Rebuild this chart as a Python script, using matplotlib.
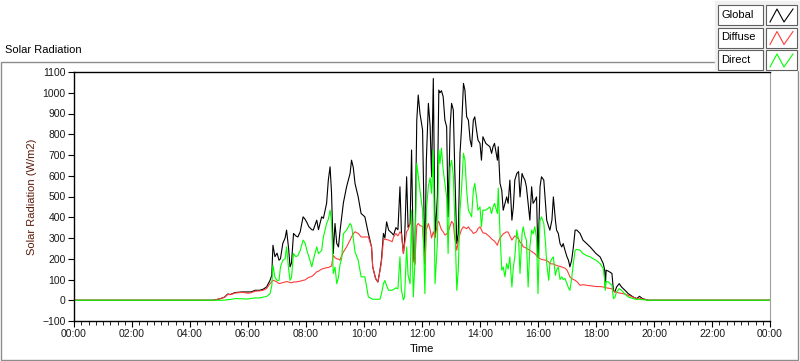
import matplotlib
matplotlib.use("Agg")
import matplotlib.pyplot as plt
from matplotlib.patches import Rectangle
from matplotlib.lines import Line2D
from matplotlib.ticker import FixedLocator, FuncFormatter

# time of day in hours, with readings (W/m2) for the three series
hours = [
    0.0, 4.8, 4.9, 5.0, 5.1, 5.2, 5.3, 5.4, 5.55, 5.8, 6.0, 6.1, 6.25, 6.4, 6.52, 6.64, 6.76, 6.82, 6.86, 6.93,
    7.0, 7.07, 7.12, 7.2, 7.28, 7.33, 7.4, 7.45, 7.5, 7.57, 7.65, 7.72, 7.8, 7.9, 7.97, 8.03, 8.1, 8.2, 8.25, 8.37,
    8.43, 8.54, 8.6, 8.71, 8.77, 8.83, 8.88, 8.94, 9.0, 9.06, 9.12, 9.17, 9.23, 9.29, 9.4, 9.52, 9.57, 9.63, 9.69, 9.8,
    9.9, 10.03, 10.15, 10.26, 10.3, 10.4, 10.48, 10.55, 10.6, 10.67, 10.72, 10.78, 10.85, 10.97, 11.02, 11.1, 11.17, 11.24, 11.29, 11.36,
    11.4, 11.47, 11.52, 11.59, 11.64, 11.7, 11.75, 11.82, 11.87, 11.93, 12.02, 12.1, 12.15, 12.22, 12.28, 12.33, 12.39, 12.45, 12.53, 12.58,
    12.62, 12.67, 12.73, 12.79, 12.85, 12.9, 12.97, 13.02, 13.08, 13.13, 13.2, 13.25, 13.31, 13.36, 13.43, 13.48, 13.54, 13.6, 13.66, 13.71,
    13.77, 13.82, 13.88, 13.93, 14.0, 14.05, 14.1, 14.2, 14.34, 14.4, 14.45, 14.5, 14.6, 14.63, 14.69, 14.75, 14.8, 14.86, 14.92, 14.97,
    15.03, 15.1, 15.15, 15.2, 15.27, 15.33, 15.38, 15.45, 15.49, 15.55, 15.6, 15.66, 15.72, 15.78, 15.83, 15.89, 15.95, 16.0, 16.07, 16.12,
    16.2, 16.26, 16.3, 16.37, 16.41, 16.48, 16.53, 16.6, 16.64, 16.7, 16.76, 16.82, 16.87, 16.93, 17.0, 17.05, 17.1, 17.16, 17.22, 17.28,
    17.34, 17.45, 17.55, 17.68, 17.8, 17.9, 18.0, 18.14, 18.25, 18.3, 18.32, 18.35, 18.43, 18.55, 18.6, 18.65, 18.71, 18.8, 18.88, 19.0,
    19.11, 19.28, 19.4, 19.5, 19.6, 19.75, 19.8, 24.0,
]
global_wm2 = [
    0, 0, 3, 6, 10, 16, 30, 28, 37, 40, 40, 40, 48, 48, 53, 64, 96, 120, 265, 210,
    227, 193, 200, 274, 300, 338, 250, 161, 180, 322, 310, 305, 330, 402, 390, 375, 354, 340, 338, 386,
    340, 402, 395, 467, 579, 643, 520, 225, 370, 274, 257, 330, 402, 470, 547, 611, 675, 640, 563, 498,
    418, 402, 322, 257, 161, 105, 88, 145, 193, 322, 300, 378, 338, 322, 314, 350, 340, 547, 330, 225,
    290, 595, 350, 370, 724, 209, 177, 868, 989, 900, 820, 177, 675, 949, 840, 595, 1069, 305, 498, 1013,
    1000, 1010, 981, 868, 836, 402, 836, 949, 917, 627, 273, 320, 708, 820, 1045, 1013, 884, 868, 772, 740,
    868, 884, 820, 772, 756, 675, 788, 756, 740, 708, 740, 756, 675, 740, 563, 530, 434, 467, 498, 467,
    579, 386, 450, 579, 611, 620, 498, 611, 595, 579, 547, 467, 386, 547, 467, 480, 498, 205, 547, 595,
    579, 467, 386, 354, 338, 386, 498, 386, 338, 322, 273, 257, 273, 241, 209, 193, 161, 193, 257, 338,
    338, 322, 290, 273, 257, 241, 225, 209, 177, 145, 60, 145, 140, 129, 48, 40, 64, 80, 64, 48,
    32, 16, 8, 19, 8, 2, 0, 0,
]
diffuse_wm2 = [
    0, 0, 3, 6, 10, 15, 28, 27, 35, 38, 34, 36, 44, 45, 48, 56, 80, 90, 96, 93,
    88, 80, 82, 85, 88, 90, 88, 85, 84, 88, 88, 90, 92, 96, 98, 105, 110, 115, 120, 137,
    140, 150, 153, 157, 158, 161, 165, 217, 205, 200, 198, 193, 215, 233, 257, 290, 305, 320, 330, 322,
    305, 305, 305, 257, 161, 105, 88, 140, 180, 290, 295, 292, 290, 282, 305, 322, 310, 330, 320, 225,
    270, 330, 340, 370, 380, 200, 170, 360, 370, 360, 355, 170, 340, 370, 340, 300, 330, 300, 370, 380,
    360, 340, 330, 314, 320, 330, 360, 380, 370, 300, 241, 280, 320, 340, 354, 350, 345, 354, 340, 335,
    322, 325, 330, 345, 354, 340, 325, 322, 305, 295, 290, 285, 265, 280, 300, 310, 320, 325, 330, 328,
    310, 290, 300, 310, 305, 295, 280, 270, 257, 255, 250, 245, 241, 235, 230, 225, 215, 205, 200, 197,
    195, 193, 190, 185, 177, 175, 175, 170, 168, 165, 163, 160, 158, 155, 145, 130, 113, 105, 100, 96,
    90, 72, 75, 72, 70, 68, 66, 66, 64, 62, 60, 60, 58, 55, 48, 40, 38, 35, 33, 30,
    24, 15, 8, 10, 6, 2, 0, 0,
]
direct_wm2 = [
    0, 0, 0, 0, 0, 1, 3, 4, 8, 7, 6, 9, 11, 11, 15, 18, 32, 70, 169, 110,
    96, 96, 160, 193, 200, 257, 150, 96, 110, 225, 210, 215, 240, 290, 275, 240, 209, 161, 193, 257,
    225, 240, 305, 370, 390, 434, 380, 129, 160, 80, 110, 170, 200, 321, 338, 370, 360, 300, 233, 193,
    113, 113, 16, 8, 5, 5, 5, 5, 30, 80, 95, 70, 48, 48, 52, 60, 55, 209, 48, 2,
    16, 257, 120, 80, 434, 16, 160, 659, 600, 530, 434, 32, 434, 550, 590, 515, 724, 80, 273, 724,
    659, 733, 627, 563, 498, 225, 640, 675, 600, 386, 48, 144, 434, 530, 708, 675, 530, 434, 418, 402,
    530, 563, 498, 434, 450, 354, 434, 434, 450, 418, 450, 467, 418, 540, 322, 145, 160, 113, 177, 150,
    209, 64, 160, 209, 338, 290, 129, 320, 354, 310, 290, 64, 257, 338, 320, 354, 300, 32, 386, 402,
    370, 273, 177, 96, 180, 200, 209, 120, 145, 160, 100, 113, 100, 105, 80, 60, 48, 105, 177, 241,
    245, 241, 225, 215, 209, 200, 193, 177, 153, 96, 48, 90, 88, 72, 8, 13, 40, 56, 48, 30,
    16, 8, 4, 5, 3, 1, 0, 0,
]

series_names = ["Global", "Diffuse", "Direct"]
series_colors = ["#000000", "#ff3c3c", "#00ff00"]

W, H = 800, 361
fig = plt.figure(figsize=(W / 100, H / 100), dpi=100)
plt.rcParams["font.family"] = ["Liberation Sans", "DejaVu Sans"]


def fx(x):
    return x / W


def fy(y):
    return 1 - y / H


# outer gray frame of the chart
fig.patches.append(Rectangle((fx(0.5), fy(360)), fx(797), fy(62) - fy(360), transform=fig.transFigure,
                             fill=False, edgecolor="#8c8c8c", linewidth=1.0))
fig.text(fx(5), fy(50), "Solar Radiation", fontsize=8, va="center", ha="left")

ax = fig.add_axes([fx(74), fy(321), fx(770) - fx(74), fy(72) - fy(321)])
for vals, col in zip([global_wm2, diffuse_wm2, direct_wm2], series_colors):
    ax.plot(hours, vals, color=col, linewidth=0.8)

ax.set_xlim(0, 24)
ax.set_ylim(-100, 1100)
ax.xaxis.set_major_locator(FixedLocator(list(range(0, 25, 2))))
ax.xaxis.set_minor_locator(FixedLocator([q / 4 for q in range(0, 97)]))
ax.xaxis.set_major_formatter(FuncFormatter(lambda v, p: "%02d:00" % (int(round(v)) % 24)))
ax.yaxis.set_major_locator(FixedLocator(list(range(-100, 1101, 100))))
ax.tick_params(axis="both", which="major", labelsize=7.5, length=4, width=0.8, colors="black",
               labelcolor="#1a1a1a", pad=2)
ax.tick_params(axis="x", which="minor", length=3, width=0.6)
ax.set_xlabel("Time", fontsize=8, labelpad=3)
ax.set_ylabel("Solar Radiation (W/m2)", fontsize=8, color="#5a1a0a", labelpad=4)
for side in ["left", "top", "bottom"]:
    ax.spines[side].set_color("black")
    ax.spines[side].set_linewidth(1.0)
ax.spines["right"].set_color("#a0a0a0")

# legend panel at top right
fig.patches.append(Rectangle((fx(715), fy(70)), fx(85), fy(1) - fy(70), transform=fig.transFigure,
                             facecolor="#f0f0f0", edgecolor="#f0f0f0", zorder=2))
for i, (name, col) in enumerate(zip(series_names, series_colors)):
    top = 5 + i * 22.5
    fig.patches.append(Rectangle((fx(718), fy(top + 20)), fx(45), fy(top) - fy(top + 20),
                                 transform=fig.transFigure, facecolor="white", edgecolor="#606060",
                                 linewidth=0.8, zorder=3))
    fig.patches.append(Rectangle((fx(766), fy(top + 20)), fx(31), fy(top) - fy(top + 20),
                                 transform=fig.transFigure, facecolor="white", edgecolor="#606060",
                                 linewidth=0.8, zorder=3))
    fig.text(fx(721), fy(top + 10), name, fontsize=8, va="center", ha="left", zorder=4)
    zx = [770, 777, 784, 793]
    zy = [top + 17, top + 4, top + 17, top + 4]
    fig.lines.append(Line2D([fx(v) for v in zx], [fy(v) for v in zy], transform=fig.transFigure,
                            color=col, linewidth=0.8, zorder=4))

fig.savefig("out.png", dpi=100)
